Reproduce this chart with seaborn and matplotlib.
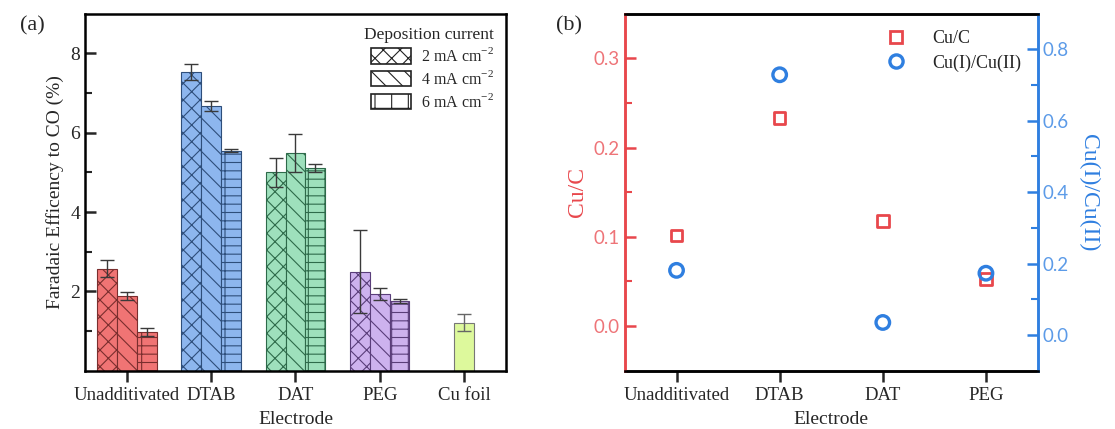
import matplotlib
matplotlib.use("Agg")
import matplotlib.pyplot as plt
import seaborn as sns
import pandas as pd
import numpy as np
from matplotlib.patches import Patch
from matplotlib.lines import Line2D

# ---------------- data ----------------
electrodes = ["Unadditivated", "DTAB", "DAT", "PEG", "Cu foil"]
currents = ["2 mA cm$^{-2}$", "4 mA cm$^{-2}$", "6 mA cm$^{-2}$"]
fe_2mA = [2.57, 7.54, 5.00, 2.50]
fe_4mA = [1.88, 6.67, 5.49, 1.93]
fe_6mA = [0.98, 5.55, 5.11, 1.76]
err_2mA = [0.22, 0.20, 0.36, 1.05]
err_4mA = [0.11, 0.12, 0.47, 0.15]
err_6mA = [0.10, 0.03, 0.09, 0.05]
cufoil_fe = [1.21]
cufoil_err = [0.21]

electrodes_b = ["Unadditivated", "DTAB", "DAT", "PEG"]
cu_c = [0.1015, 0.233, 0.118, 0.053]
cu1_cu2 = [0.181, 0.729, 0.035, 0.173]

group_colors = ["#F07474", "#8DB6EE", "#9EE0BC", "#CDB2EE"]
group_edges = ["#7A2E2E", "#2E4E7A", "#2E6A4A", "#5A3E7A"]
cufoil_color = "#DDF99C"
hatches = ["xx", "\\\\", "+-"]

RED = "#E8474C"
BLUE = "#2F7FE0"

sns.set_theme(style="white")
plt.rcParams["font.family"] = ["Liberation Serif", "DejaVu Serif"]
plt.rcParams["mathtext.fontset"] = "custom"
plt.rcParams["mathtext.rm"] = "Liberation Serif"
plt.rcParams["hatch.linewidth"] = 0.8

fig = plt.figure(figsize=(11.15, 4.29), dpi=100)
ax = fig.add_axes([0.076, 0.136, 0.378, 0.832])

rows = []
for i, e in enumerate(electrodes[:4]):
    for c, vals in zip(currents, [fe_2mA, fe_4mA, fe_6mA]):
        rows.append({"Electrode": e, "Current": c, "FE": vals[i]})
df = pd.DataFrame(rows)

sns.barplot(data=df, x="Electrode", y="FE", hue="Current", order=electrodes,
            hue_order=currents, width=0.705, errorbar=None, ax=ax,
            legend=False, linewidth=0.8, edgecolor="#333333")
bars = [p for p in ax.patches]
errs = [err_2mA, err_4mA, err_6mA]
vals_all = [fe_2mA, fe_4mA, fe_6mA]
k = 0
for hi in range(3):
    for gi in range(4):
        p = bars[k]
        p.set_facecolor(group_colors[gi])
        p.set_edgecolor(group_edges[gi])
        p.set_hatch(hatches[hi])
        cx = p.get_x() + p.get_width() / 2
        ax.errorbar(cx, vals_all[hi][gi], yerr=errs[hi][gi], fmt="none",
                    ecolor="#3a3a3a", elinewidth=1.0, capsize=5, capthick=1.0,
                    zorder=5)
        k += 1

df_foil = pd.DataFrame({"Electrode": ["Cu foil"], "FE": cufoil_fe})
sns.barplot(data=df_foil, x="Electrode", y="FE", order=electrodes, width=0.235,
            color=cufoil_color, errorbar=None, ax=ax, linewidth=0.8,
            edgecolor="#777777", saturation=1)
pf = ax.patches[-1]
pf.set_facecolor(cufoil_color)
ax.errorbar(pf.get_x() + pf.get_width() / 2, cufoil_fe[0], yerr=cufoil_err[0],
            fmt="none", ecolor="#666666", elinewidth=1.0, capsize=5, capthick=1.0,
            zorder=5)

ax.set_xlim(-0.5, 4.5)
ax.set_ylim(0, 9)
ax.set_yticks([2, 4, 6, 8])
ax.set_yticks([1, 3, 5, 7], minor=True)
ax.tick_params(axis="y", which="major", direction="in", length=8, width=1.8,
               labelsize=14, left=True)
ax.tick_params(axis="y", which="minor", direction="in", length=5, width=1.5, left=True)
ax.tick_params(axis="x", direction="out", length=8, width=1.8, labelsize=13.5,
               bottom=True)
for s in ax.spines.values():
    s.set_linewidth(1.8)
    s.set_color("black")
ax.set_xlabel("Electrode", fontsize=14, labelpad=5)
ax.set_ylabel("Faradaic Efficency to CO (%)", fontsize=14)

leg_handles = [Patch(facecolor="white", edgecolor="#222222", hatch=h, linewidth=1.2)
               for h in ["xx", "\\\\", "+"]]
leg = ax.legend(leg_handles, currents, title="Deposition current", loc="upper right",
                frameon=False, fontsize=11.5, title_fontsize=12.5,
                handlelength=2.5, handleheight=1.1, handletextpad=0.6,
                labelspacing=0.3, borderaxespad=0.4)
leg._legend_box.align = "right"

fig.text(0.018, 0.93, "(a)", fontsize=16)

# ---------------- panel (b) ----------------
axb = fig.add_axes([0.5605, 0.136, 0.370, 0.832])
axb2 = axb.twinx()

sns.scatterplot(x=electrodes_b, y=cu_c, ax=axb, marker="s", s=70,
                facecolor="none", edgecolor=RED, linewidth=2.0, zorder=3)
sns.scatterplot(x=electrodes_b, y=cu1_cu2, ax=axb2, marker="o", s=95,
                facecolor="none", edgecolor=BLUE, linewidth=2.4, zorder=3)

axb.set_xlim(-0.5, 3.5)
axb.set_ylim(-0.05, 0.35)
axb2.set_ylim(-0.1, 0.9)
axb.set_yticks([0.0, 0.1, 0.2, 0.3])
axb.set_yticks([0.05, 0.15, 0.25], minor=True)
axb2.set_yticks([0.0, 0.2, 0.4, 0.6, 0.8])
axb2.set_yticks([0.1, 0.3, 0.5, 0.7], minor=True)
axb.yaxis.set_major_formatter(matplotlib.ticker.FormatStrFormatter("%.1f"))
axb2.yaxis.set_major_formatter(matplotlib.ticker.FormatStrFormatter("%.1f"))

axb.tick_params(axis="y", which="major", direction="in", length=8, width=1.8,
                colors=RED, labelcolor="#EE7478", labelsize=13.5, left=True)
axb.tick_params(axis="y", which="minor", direction="in", length=5, width=1.5,
                colors=RED, left=True)
axb2.tick_params(axis="y", which="major", direction="in", length=8, width=1.8,
                 colors=BLUE, labelcolor="#5C9BE8", labelsize=13.5, right=True)
axb2.tick_params(axis="y", which="minor", direction="in", length=5, width=1.5,
                 colors=BLUE, right=True)
for lab in axb.get_yticklabels() + axb2.get_yticklabels():
    lab.set_family(["Lato", "DejaVu Sans"])
axb.tick_params(axis="x", direction="out", length=8, width=1.8, labelsize=13.5,
                bottom=True)

for a in (axb, axb2):
    for s in a.spines.values():
        s.set_linewidth(1.8)
        s.set_color("black")
    a.spines["left"].set_color(RED)
    a.spines["right"].set_color(BLUE)

axb.set_xlabel("Electrode", fontsize=14, labelpad=5)
axb.set_ylabel("Cu/C", fontsize=17, color=RED, labelpad=4)
axb2.set_ylabel("Cu(I)/Cu(II)", fontsize=17, color=BLUE, rotation=270, labelpad=22)

handles_b = [Line2D([], [], ls="none", marker="s", markersize=8, markerfacecolor="none",
                    markeredgecolor=RED, markeredgewidth=2.0),
             Line2D([], [], ls="none", marker="o", markersize=9.5, markerfacecolor="none",
                    markeredgecolor=BLUE, markeredgewidth=2.4)]
axb2.legend(handles_b, ["Cu/C", "Cu(I)/Cu(II)"], loc="upper right", frameon=False,
            fontsize=13, handletextpad=1.0, borderaxespad=0.5, labelspacing=0.4)

fig.text(0.499, 0.93, "(b)", fontsize=16)

fig.savefig("out.png", dpi=100)
